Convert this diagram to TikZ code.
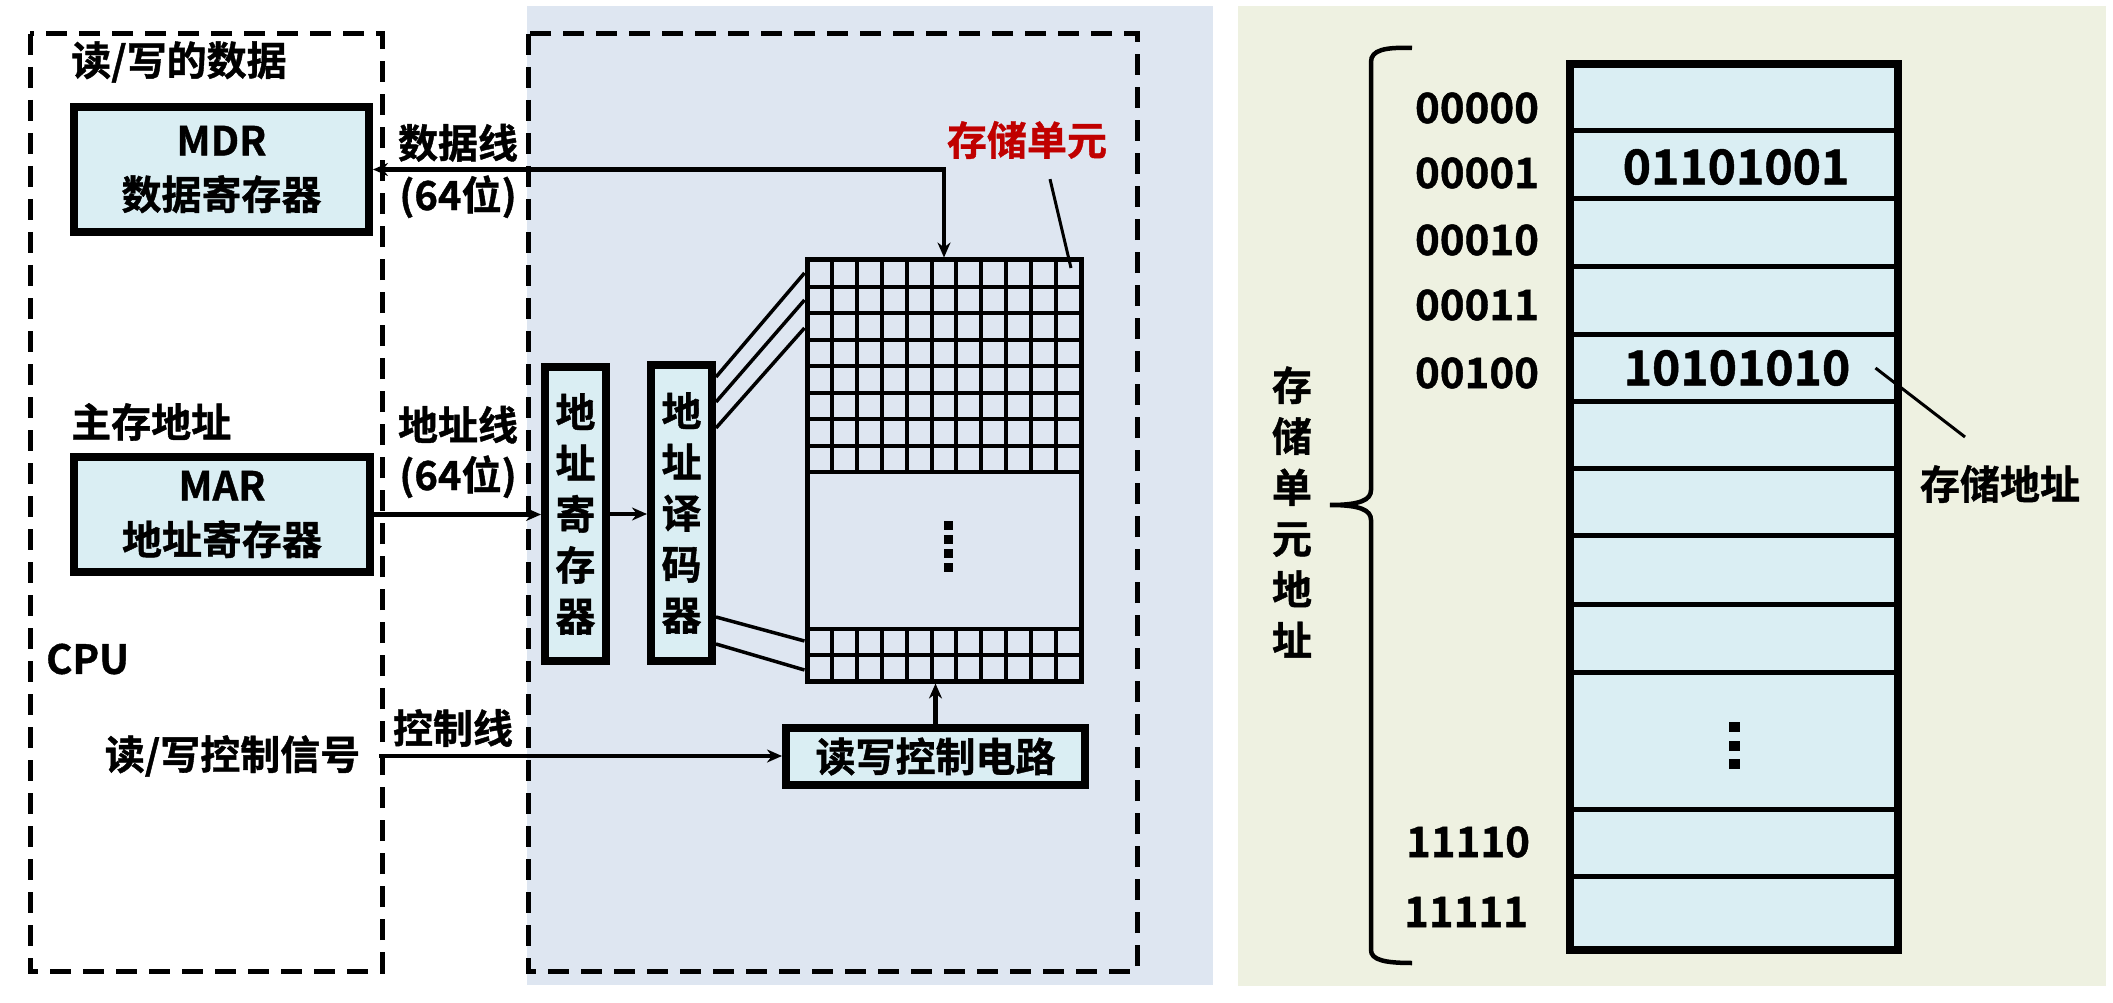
\documentclass[tikz,border=0pt]{standalone}
\usepackage{fontspec}
\setmainfont{Noto Sans CJK SC}[BoldFont={Noto Sans CJK SC Bold}, BoldFeatures={FakeBold=1}]
\usetikzlibrary{arrows.meta,calc}
\definecolor{midbg}{RGB}{222,230,241}
\definecolor{rightbg}{RGB}{238,241,225}
\definecolor{cellblue}{RGB}{218,238,243}
\definecolor{redtxt}{RGB}{192,0,0}
\begin{document}
\begin{tikzpicture}[x=1pt,y=-1pt,
 every node/.style={inner sep=0pt},
 txt/.style={font=\bfseries\fontsize{40}{51}\selectfont, align=center},
 txttwo/.style={font=\bfseries\fontsize{40}{54}\selectfont, align=center},
 numtxt/.style={font=\bfseries\fontsize{42}{50}\selectfont},
 regbox/.style={draw, line width=8pt, fill=cellblue},
 dashbox/.style={draw, line width=5pt, dash pattern=on 21pt off 12pt},
 conn/.style={line width=4.5pt, -{Stealth[length=15pt,width=13pt]}},
 bothconn/.style={line width=4.5pt, {Stealth[length=15pt,width=13pt]}-{Stealth[length=15pt,width=13pt]}},
 thinl/.style={line width=3.5pt},
 gridl/.style={line width=4pt},
]
\useasboundingbox (0,0) rectangle (2113,1003);
% panels
\fill[midbg] (527,6) rectangle (1213,985);
\fill[rightbg] (1238,6) rectangle (2106,986);
\draw[dashbox] (30,34) rectangle (382,971);
\draw[dashbox] (528,34) rectangle (1137,971);

% CPU side
\node[txt, anchor=west] (rwdata) at (71,62) {读/写的数据};
\node[regbox, txttwo, minimum width=295, minimum height=125] (mdr) at (221.5,169.5) {MDR\\数据寄存器};
\node[txt, anchor=west] (maddr) at (71,422) {主存地址};
\node[regbox, txttwo, minimum width=296, minimum height=115] (mar) at (222,514.5) {MAR\\地址寄存器};
\node[txt, anchor=west] (cpu) at (46,659) {CPU};
\node[txt] (rwsig) at (232.5,756) {读/写控制信号};

% bus labels
\node[txt, font=\bfseries\fontsize{40}{52}\selectfont] (dlab) at (458,171) {数据线\\(64位)};
\node[txt, font=\bfseries\fontsize{40}{50}\selectfont] (alab) at (458,452) {地址线\\(64位)};
\node[txt] (clab) at (453,728) {控制线};

% memory chip
\node[txt, text=redtxt] (cell) at (1027,140) {存储单元};
\node[regbox, txt, minimum width=61, minimum height=294] (areg) at (575.5,514) {地\\址\\寄\\存\\器};
\node[regbox, txt, minimum width=61, minimum height=296] (adec) at (681.5,513) {地\\址\\译\\码\\器};
\node[draw, line width=5pt, minimum width=274, minimum height=421] (grid) at (944,470.5) {};
\foreach \k in {1,...,8} \draw[gridl] (807,{260+26.5*\k}) -- (1081,{260+26.5*\k});
\foreach \y in {629,655} \draw[gridl] (807,\y) -- (1081,\y);
\foreach \k in {1,...,10} {
  \draw[gridl] ({807+24.9*\k},260) -- ({807+24.9*\k},472);
  \draw[gridl] ({807+24.9*\k},629) -- ({807+24.9*\k},681);
}
\foreach \y in {521,535,549,563} \fill (944,\y) rectangle (953,{\y+9});
\node[regbox, txt, minimum width=299, minimum height=57] (rwc) at (935.5,756.5) {读写控制电路};

% connectors
\draw[bothconn] (mdr.east) -| (grid.north);
\draw[conn] (mar.east) -- (mar.east -| areg.west);
\draw[conn] (areg.east) -- (areg.east -| adec.west);
\draw[conn] ([xshift=19pt]rwsig.east) -- (rwsig.east -| rwc.west);
\draw[conn] (rwc.north) -- (rwc.north |- grid.south);
\draw[thinl] (adec.east |- 0,377) -- (grid.west |- 0,273);
\draw[thinl] (adec.east |- 0,402) -- (grid.west |- 0,300);
\draw[thinl] (adec.east |- 0,428) -- (grid.west |- 0,328);
\draw[thinl] (adec.east |- 0,617) -- (grid.west |- 0,641);
\draw[thinl] (adec.east |- 0,644) -- (grid.west |- 0,670);
\coordinate (cellpt) at (1071,268);
\draw[line width=3pt] ($(cell.south)+(23,20)$) -- (cellpt);

% right side: memory column
\node[draw, line width=8pt, fill=cellblue, minimum width=328, minimum height=886] (mem) at (1734,507) {};
\foreach \y in {131,199,267,334,401,468,535,604,672,809,876}
  \draw[line width=5pt] (mem.west |- 0,\y) -- (mem.east |- 0,\y);
\foreach \y in {722,741,759} \fill (1729,\y) rectangle (1740,{\y+10});
\node[numtxt] (a0) at (1477,108) {00000};
\node[numtxt] (a1) at (1477,173) {00001};
\node[numtxt] (a2) at (1477,240) {00010};
\node[numtxt] (a3) at (1477,305) {00011};
\node[numtxt] (a4) at (1477,373) {00100};
\node[numtxt] (a30) at (1468,842) {11110};
\node[numtxt] (a31) at (1466,912) {11111};
\node[font=\bfseries\fontsize{48}{56}\selectfont] (d1) at (1736,167) {01101001};
\node[font=\bfseries\fontsize{48}{56}\selectfont] (d4) at (1737,368) {10101010};
\node[txt] (saddr) at (2000,484) {存储地址};
\coordinate (lp) at (1965,437);
\draw[line width=3pt] ($(d4.east)+(25,0)$) -- (lp);
\draw[line width=4.5pt] (1412,48) .. controls (1385,47) and (1371,50) .. (1371,62) -- (1371,490)
  .. controls (1371,500) and (1360,505) .. (1330,505)
  .. controls (1360,505) and (1371,510) .. (1371,520) -- (1371,950)
  .. controls (1371,960) and (1385,963) .. (1412,963);
\node[txt] (vlab) at (1292,512) {存\\储\\单\\元\\地\\址};
\end{tikzpicture}
\end{document}
